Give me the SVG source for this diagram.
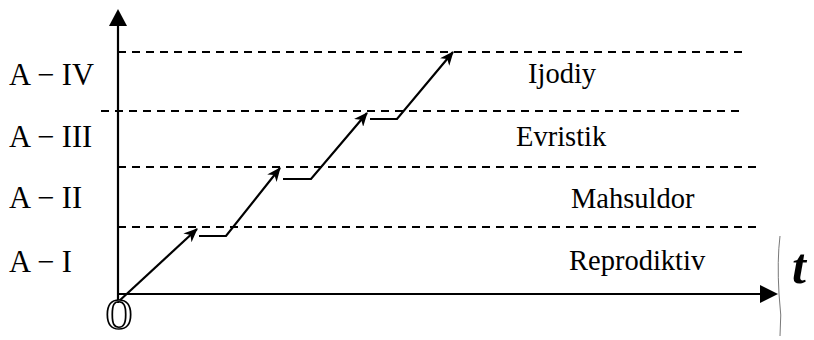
<svg xmlns="http://www.w3.org/2000/svg" width="814" height="340" viewBox="0 0 814 340">
<defs>
<style>
.lbl{font-family:"Liberation Serif","Times New Roman",serif;font-size:28.5px;fill:#000}
.lv{font-family:"Liberation Serif","Times New Roman",serif;font-size:30.5px;fill:#000}
.dash{stroke:#000;stroke-width:2;stroke-dasharray:8 6;fill:none}
.ax{stroke:#000;stroke-width:2.2;fill:none}
.st{stroke:#000;stroke-width:2.2;fill:none}
</style>
<marker id="ah" viewBox="0 0 14 12" refX="13" refY="6" markerWidth="14" markerHeight="12" markerUnits="userSpaceOnUse" orient="auto">
<path d="M0,0 L14,6 L0,12 L4,6 Z" fill="#000"/>
</marker>
</defs>
<rect width="814" height="340" fill="#fff"/>
<g id="grid">
<line class="dash" x1="118" y1="52" x2="743" y2="52"/>
<line class="dash" x1="101" y1="111" x2="743" y2="111"/>
<line class="dash" x1="118" y1="167" x2="758" y2="167"/>
<line class="dash" x1="118" y1="227" x2="758" y2="227"/>
</g>
<g id="axes">
<line class="ax" x1="118" y1="303" x2="118" y2="24"/>
<path d="M118,9 L127,26 L109,26 Z" fill="#000"/>
<line class="ax" x1="118" y1="294" x2="762" y2="294"/>
<path d="M778,294 L760,285 L760,303 Z" fill="#000"/>
<path d="M780,236 Q777,260 779,294 Q782,315 780,336" stroke="#555" stroke-width="0.8" fill="none"/>
</g>
<g id="connectors">
<line class="st" x1="118" y1="302" x2="197" y2="229" marker-end="url(#ah)"/>
<polyline class="st" points="199,236 226,236 280,168" marker-end="url(#ah)"/>
<polyline class="st" points="283,179 311,179 367,113" marker-end="url(#ah)"/>
<polyline class="st" points="370,119 397,119 453,52" marker-end="url(#ah)"/>
</g>
<g id="levels">
<text class="lv" x="9" y="85">A − IV</text>
<text class="lv" x="9" y="147">A − III</text>
<text class="lv" x="9" y="208">A − II</text>
<text class="lv" x="9" y="272">A − I</text>
</g>
<g id="names">
<text class="lbl" x="528" y="83">Ijodiy</text>
<text class="lbl" x="516" y="146">Evristik</text>
<text class="lbl" x="571" y="208">Mahsuldor</text>
<text class="lbl" x="569" y="270">Reprodiktiv</text>
</g>
<text x="792" y="283" font-family="Liberation Serif, serif" font-style="italic" font-weight="bold" font-size="50" fill="#000">t</text>
<text x="91" y="329" font-family="Liberation Serif, serif" font-size="44" fill="#fff" stroke="#000" stroke-width="1.4" transform="translate(119 0) scale(1.25 1) translate(-119 0)" text-anchor="start" dx="17">0</text>
</svg>
